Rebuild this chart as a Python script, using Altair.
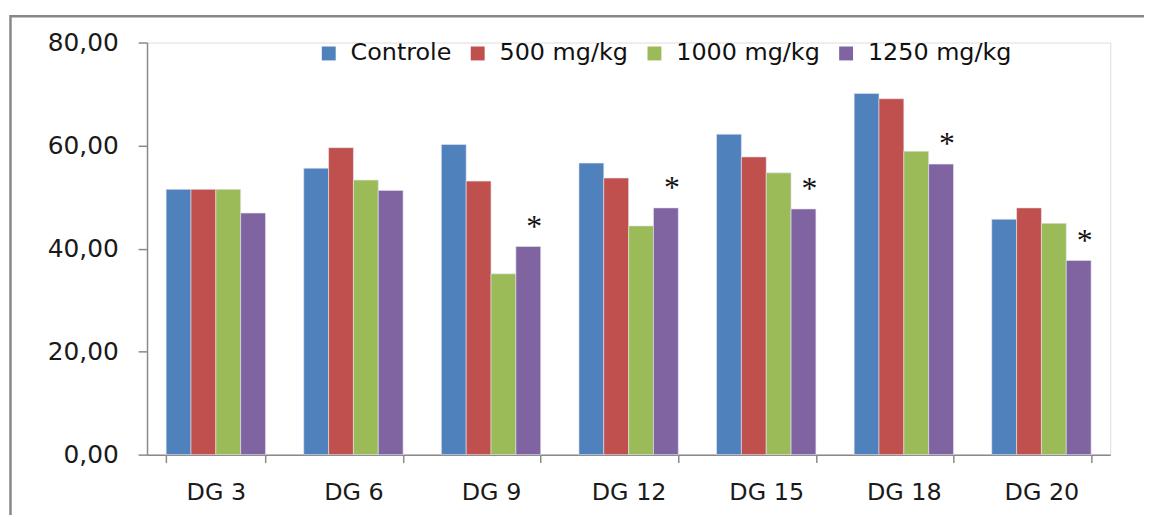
import altair as alt
import pandas as pd

categories = ["DG 3", "DG 6", "DG 9", "DG 12", "DG 15", "DG 18", "DG 20"]
series_names = ["Controle", "500 mg/kg", "1000 mg/kg", "1250 mg/kg"]
controle = [51.5, 55.6, 60.2, 56.6, 62.2, 70.1, 45.7]
mg500 = [51.5, 59.6, 53.1, 53.7, 57.8, 69.1, 47.9]
mg1000 = [51.5, 53.3, 35.1, 44.4, 54.7, 58.9, 44.9]
mg1250 = [46.9, 51.3, 40.4, 47.9, 47.7, 56.4, 37.7]
significant_1250 = [False, False, True, True, True, True, True]
colors = ["#4F81BD", "#C0504D", "#9BBB59", "#8064A2"]

rows = []
for s, vals in zip(series_names, [controle, mg500, mg1000, mg1250]):
    for c, v in zip(categories, vals):
        rows.append({"cat": c, "series": s, "value": v})
df = pd.DataFrame(rows)

stars = pd.DataFrame(
    [{"cat": c, "series": "1250 mg/kg", "value": v, "mark": "*"}
     for c, v, sig in zip(categories, mg1250, significant_1250) if sig]
)

W, H = 970, 415
axis_gray = "#898989"

x_enc = alt.X(
    "cat:N",
    sort=categories,
    scale=alt.Scale(paddingInner=0.278, paddingOuter=0.139),
    axis=alt.Axis(
        title=None, labelAngle=0, tickBand="extent", labelFont="DejaVu Sans",
        labelFontSize=24, labelColor="#1a1a1a", labelPadding=18, tickSize=8,
        domainColor=axis_gray, tickColor=axis_gray, domainWidth=1.5, tickWidth=1.5,
        grid=False,
    ),
)
xo_enc = alt.XOffset("series:N", scale=alt.Scale(domain=series_names, paddingInner=0, paddingOuter=0))
y_enc = alt.Y(
    "value:Q",
    scale=alt.Scale(domain=[0, 80], nice=False),
    axis=alt.Axis(
        title=None, values=[0, 20, 40, 60, 80], grid=False,
        labelExpr="replace(format(datum.value, '.2f'), '.', ',')",
        labelFont="DejaVu Sans", labelFontSize=25, labelColor="#1a1a1a",
        labelPadding=20, tickSize=9, domainColor=axis_gray, tickColor=axis_gray,
        domainWidth=1.5, tickWidth=1.5,
    ),
)

bars = alt.Chart(df).mark_bar(stroke="#e6e6f0", strokeWidth=0.6).encode(
    x=x_enc,
    xOffset=xo_enc,
    y=y_enc,
    color=alt.Color(
        "series:N",
        scale=alt.Scale(domain=series_names, range=colors),
        legend=alt.Legend(
            title=None, orient="none", direction="horizontal",
            legendX=171, legendY=-1, symbolType="square", symbolSize=196,
            symbolStrokeWidth=0, labelFont="DejaVu Sans", labelFontSize=24,
            labelColor="#111111", labelOffset=10, columnPadding=14,
            padding=0, labelLimit=400,
        ),
    ),
)

star_text = alt.Chart(stars).mark_text(
    font="Liberation Serif", fontSize=32, baseline="bottom", dy=-3, dx=6, color="#111111"
).encode(
    x=alt.X("cat:N", sort=categories),
    xOffset=alt.XOffset("series:N"),
    y=alt.Y("value:Q"),
    text="mark:N",
)

frame = alt.Data(values=[{}])
top_line = alt.Chart(frame).mark_rule(color="#878787", strokeWidth=2.5, clip=False).encode(
    x=alt.value(-137.5), x2=alt.value(1300), y=alt.value(-26.5)
)
left_line = alt.Chart(frame).mark_rule(color="#878787", strokeWidth=2.5, clip=False).encode(
    x=alt.value(-137.5), y=alt.value(-27.75), y2=alt.value(700)
)

chart = alt.layer(top_line, left_line, bars, star_text).properties(
    width=W, height=H,
    autosize=alt.AutoSizeParams(type="none"),
    padding={"left": 140, "top": 33, "right": 34, "bottom": 59},
).configure_view(stroke=None).configure(background="white")

chart.save("out.html", embed_options={"renderer": "svg", "actions": False})
